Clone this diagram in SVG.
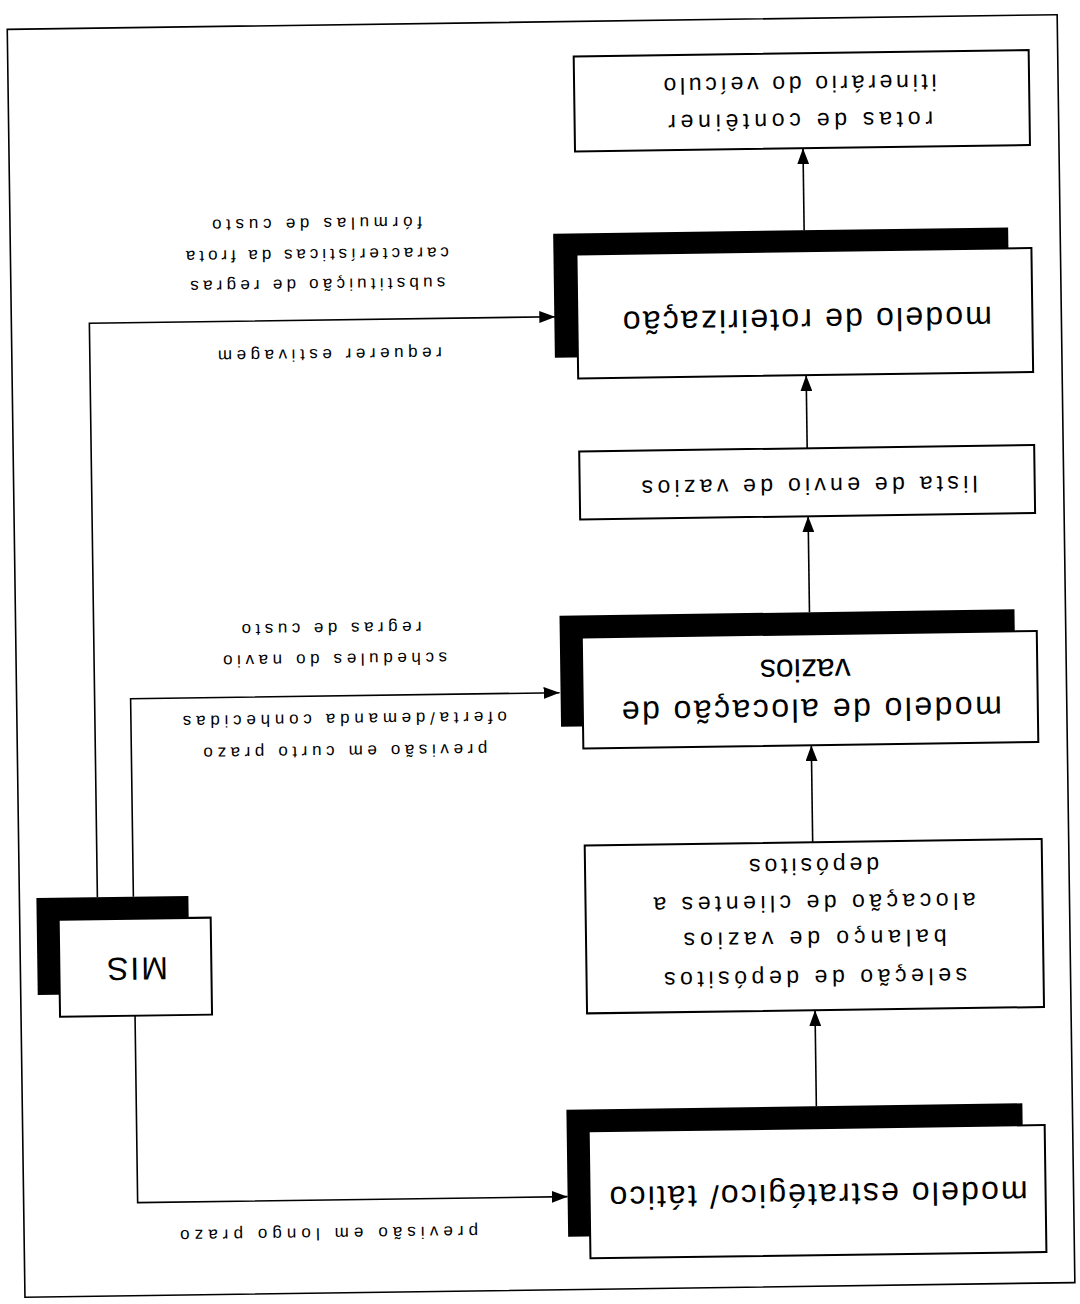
<svg xmlns="http://www.w3.org/2000/svg" width="1080" height="1304" viewBox="0 0 1080 1304">
<style>
.box{fill:#fff;stroke:#000;stroke-width:2}
.sh{fill:#000}
.t{font-family:"Liberation Sans",Arial,sans-serif;fill:#000;text-anchor:middle}
.s{font-size:23px}
.b{font-size:32px}
.l{font-size:17px}
.c{fill:none;stroke:#000;stroke-width:1.6}
</style>
<defs>
<marker id="ah" markerUnits="userSpaceOnUse" markerWidth="16" markerHeight="12" refX="16" refY="6" orient="auto">
<path d="M0,0 L16,6 L0,12 z" fill="#000"/>
</marker>
</defs>
<rect width="1080" height="1304" fill="#fff"/>
<g transform="rotate(179.2 540 652)">
<rect id="frame" x="14" y="14" width="1050" height="1268" fill="none" stroke="#000" stroke-width="1.6"/>
<g id="connectors">
<line class="c" x1="270" y1="1070" x2="270" y2="1152" marker-end="url(#ah)"/>
<line class="c" x1="270" y1="852" x2="270" y2="925" marker-end="url(#ah)"/>
<line class="c" x1="270" y1="688" x2="270" y2="784" marker-end="url(#ah)"/>
<line class="c" x1="270" y1="458" x2="270" y2="555" marker-end="url(#ah)"/>
<line class="c" x1="270" y1="194" x2="270" y2="290" marker-end="url(#ah)"/>
<polyline class="c" points="986,413 986,987 520,987" marker-end="url(#ah)"/>
<polyline class="c" points="950,413 950,611 521,611" marker-end="url(#ah)"/>
<polyline class="c" points="950,294 950,107 520,107" marker-end="url(#ah)"/>
<text class="t l" x="746" y="958" textLength="224" lengthAdjust="spacing">requerer estivagem</text>
<text class="t l" x="757" y="1028" textLength="255" lengthAdjust="spacing">substituição de regras</text>
<text class="t l" x="757" y="1058" textLength="263" lengthAdjust="spacing">características da frota</text>
<text class="t l" x="757" y="1089" textLength="210" lengthAdjust="spacing">fórmulas de custo</text>
<text class="t l" x="736" y="561" textLength="284" lengthAdjust="spacing">previsão em curto prazo</text>
<text class="t l" x="736" y="593" textLength="324" lengthAdjust="spacing">oferta/demanda conhecidas</text>
<text class="t l" x="745" y="653" textLength="224" lengthAdjust="spacing">schedules do navio</text>
<text class="t l" x="748" y="684" textLength="180" lengthAdjust="spacing">regras de custo</text>
<text class="t l" x="759" y="79" textLength="298" lengthAdjust="spacing">previsão em longo prazo</text>
</g>
<g id="estrategico">
<rect class="sh" x="64" y="67" width="456" height="127"/>
<rect class="box" x="42" y="45" width="456" height="127"/>
<text class="t b" x="269" y="116" textLength="418" lengthAdjust="spacing">modelo estratégico/ tático</text>
</g>
<g id="selecao">
<rect class="box" x="41" y="290" width="457" height="168"/>
<text class="t s" x="269" y="330" textLength="303" lengthAdjust="spacing">seleção de depósitos</text>
<text class="t s" x="269" y="369" textLength="263" lengthAdjust="spacing">balanço de vazios</text>
<text class="t s" x="269" y="405" textLength="322" lengthAdjust="spacing">alocação de clientes a</text>
<text class="t s" x="269" y="442" textLength="130" lengthAdjust="spacing">depósitos</text>
</g>
<g id="alocacao">
<rect class="sh" x="65" y="577" width="455" height="111"/>
<rect class="box" x="43" y="555" width="455" height="111"/>
<text class="t b" x="269" y="601" textLength="380" lengthAdjust="spacing">modelo de alocação de</text>
<text class="t b" x="275" y="641">vazios</text>
</g>
<g id="lista">
<rect class="box" x="43" y="784" width="455" height="68"/>
<text class="t s" x="268" y="822" textLength="336" lengthAdjust="spacing">lista de envio de vazios</text>
</g>
<g id="roteirizacao">
<rect class="sh" x="66" y="946" width="455" height="124"/>
<rect class="box" x="43" y="925" width="455" height="124"/>
<text class="t b" x="268" y="991" textLength="369" lengthAdjust="spacing">modelo de roteirização</text>
</g>
<g id="rotas">
<rect class="box" x="43" y="1152" width="455" height="95"/>
<text class="t s" x="272" y="1187" textLength="265" lengthAdjust="spacing">rotas de contêiner</text>
<text class="t s" x="272" y="1224" textLength="273" lengthAdjust="spacing">itinerário do veículo</text>
</g>
<g id="mis">
<rect class="sh" x="895" y="316" width="152" height="97"/>
<rect class="box" x="873" y="294" width="152" height="97"/>
<text class="t b" x="948" y="352" letter-spacing="2">MIS</text>
</g>
</g>
</svg>
